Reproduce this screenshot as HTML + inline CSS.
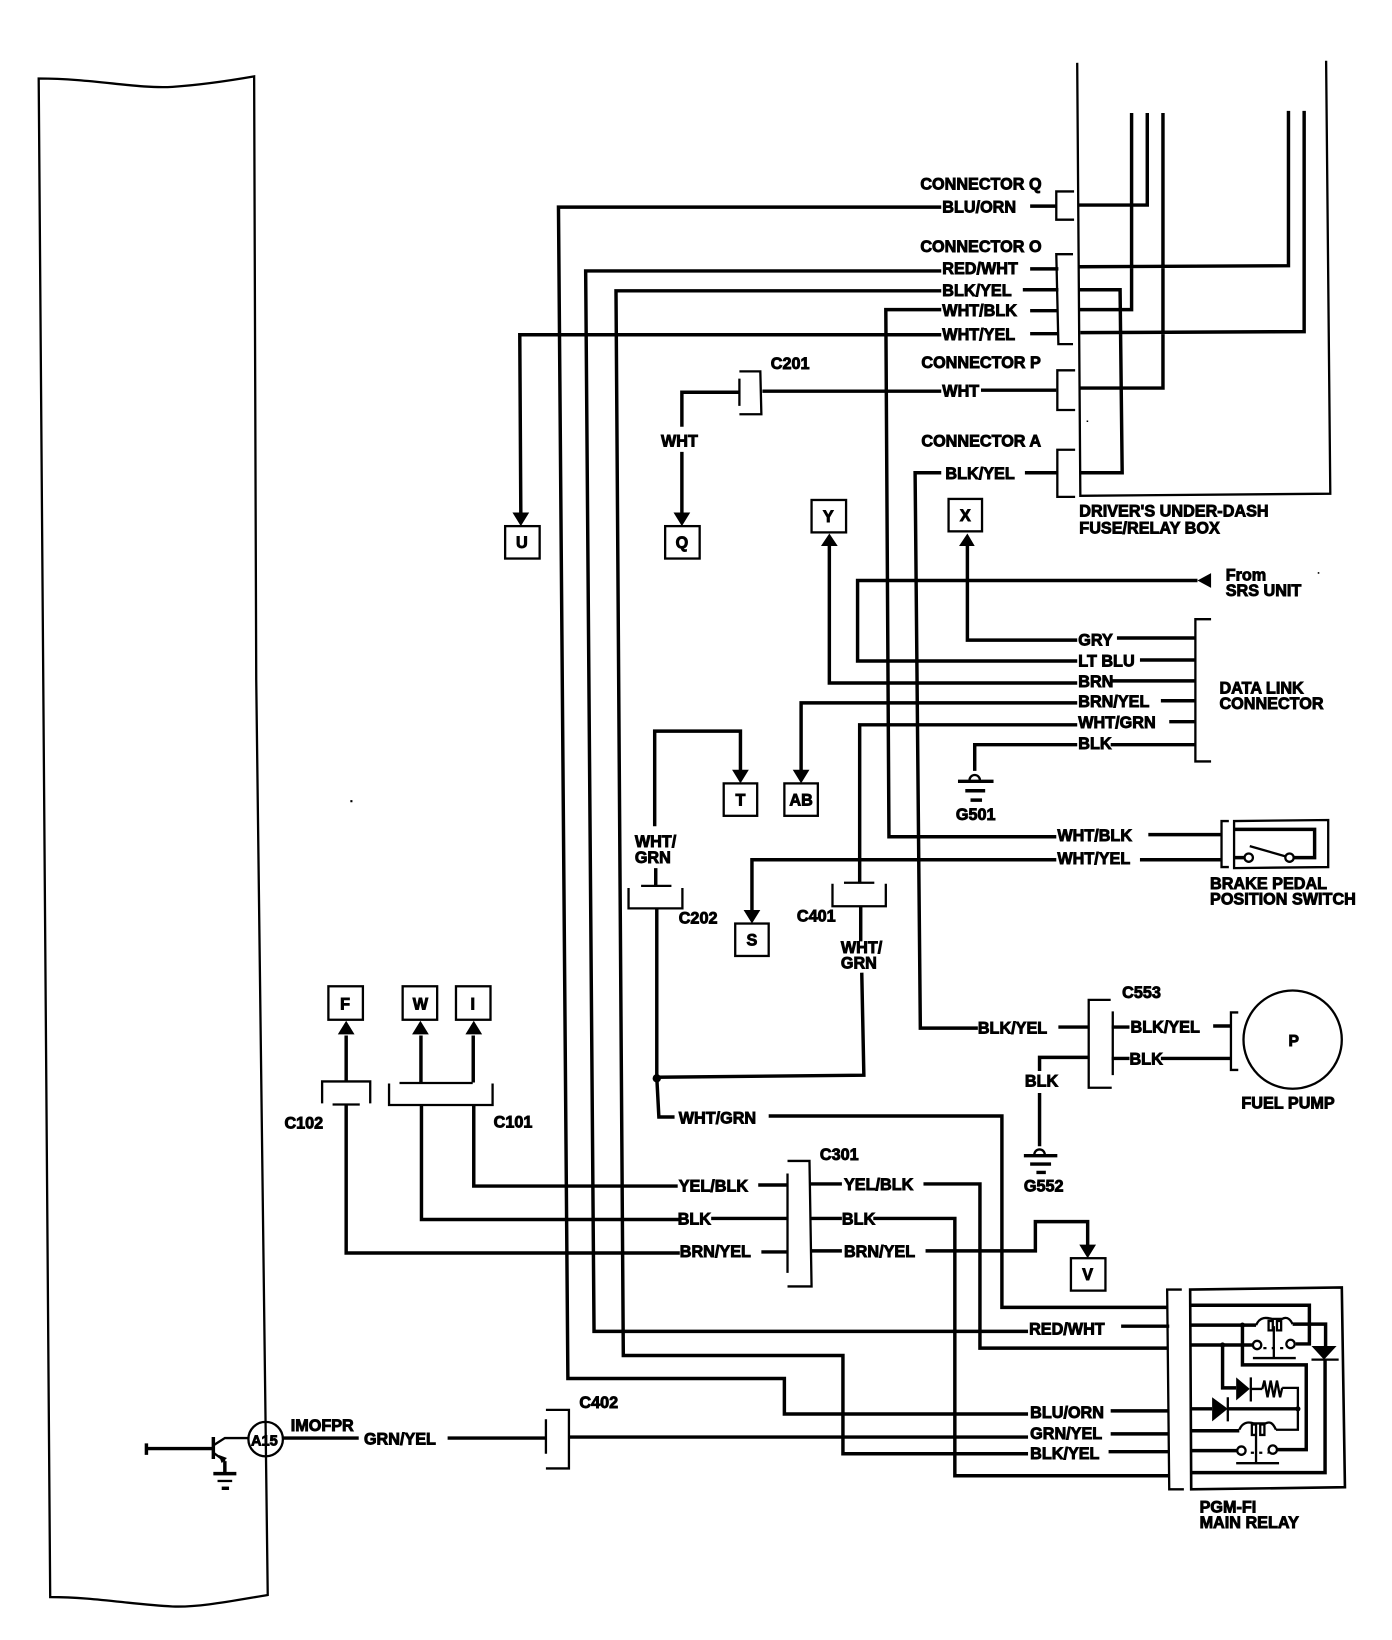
<!DOCTYPE html>
<html><head><meta charset="utf-8"><style>
html,body{margin:0;padding:0;background:#fff}
svg{display:block}
text{font-family:"Liberation Sans",sans-serif;font-weight:bold;font-size:15.5px;fill:#000;stroke:#000;stroke-width:.85px}
.w{fill:none;stroke:#000;stroke-width:3.3;stroke-linejoin:miter}
.t{fill:none;stroke:#000;stroke-width:2.2}
.b{fill:#000;stroke:none}
.c{text-anchor:middle}
</style></head><body>
<svg width="1392" height="1640" viewBox="0 0 1331 1568" xmlns="http://www.w3.org/2000/svg">
<!-- ECM/PCM body -->
<path class="t" d="M37 75C90 75 130 85 165 83C195 81 220 77 243 73L245 650L256 1525C220 1531 190 1537 165 1536C125 1534 90 1527 48 1527L37 75Z"/>
<!-- A15 transistor -->
<circle class="t" cx="254" cy="1376" r="16.5"/>
<path class="w" d="M140 1385H203M140 1380V1391M204 1374V1395"/>
<path class="t" d="M204 1382L215 1375H237M204 1389L215 1397"/>
<path class="w" d="M215 1397V1409M204 1409H226"/>
<path class="t" d="M208 1416H222"/><path class="w" d="M212 1423H219"/>
<path class="b" d="M209 1391L217 1394L212 1399Z"/>
<text x="240" y="1382" style="font-size:14px">A15</text>
<path class="w" d="M271 1375H343M428 1375H522M544 1374H983M1062 1371H1118"/>
<path class="t" d="M522 1348H544V1404H522M522 1357V1390"/>
<text x="278" y="1368">IMOFPR</text><text x="348" y="1381">GRN/YEL</text><text x="554" y="1346">C402</text>
<!-- long wires -->
<path class="w" d="M900 198H534L543 1318H750V1352H983M1062 1349H1118"/>
<path class="w" d="M900 259H560L568 1273H983M1072 1268H1118"/>
<path class="w" d="M900 278H589L596 1296H806V1390H983M1060 1388H1118"/>
<path class="w" d="M900 296H847L850 800H1010M1098 798H1168"/>
<path class="w" d="M900 320H497L498 491"/>
<path class="w" d="M707 375H652V408M652 432V491M729 374H900M938 373H1010"/>
<path class="w" d="M900 452H875L880 983H935M1012 982H1041"/>
<!-- top connector stubs -->
<path class="w" d="M985 197H1010M985 257H1012M978 277H1012M985 297H1012M985 319H1012M980 452H1012"/>
<!-- brackets -->
<path class="t" d="M1027 183H1010V210H1027M1026 243H1010L1012 329H1026M1028 354H1011V392H1028M1028 430H1011V475H1028"/>
<path class="t" d="M707 355H727L728 396H707M707 362V388"/>
<!-- fuse box -->
<path class="t" d="M1030 60L1033 474L1272 472L1268 58"/>
<path class="w" d="M1082 108V296H1032M1097 108V196H1031M1112 108V371H1033M1232 106V254L1031 255M1247 106V317L1033 318M1031 277H1071L1073 452H1033"/>
<text x="880" y="181">CONNECTOR Q</text><text x="901" y="203">BLU/ORN</text>
<text x="880" y="241">CONNECTOR O</text><text x="901" y="262">RED/WHT</text>
<text x="901" y="283">BLK/YEL</text><text x="901" y="302">WHT/BLK</text><text x="901" y="325">WHT/YEL</text>
<text x="881" y="352">CONNECTOR P</text><text x="901" y="379">WHT</text>
<text x="881" y="427">CONNECTOR A</text><text x="904" y="458">BLK/YEL</text>
<text x="737" y="353">C201</text><text x="632" y="427">WHT</text>
<text x="1032" y="494">DRIVER'S UNDER-DASH</text><text x="1032" y="510">FUSE/RELAY BOX</text>
<!-- location boxes -->
<g class="t">
<rect class="t" x="483" y="503" width="33" height="31"/><rect class="t" x="636" y="503" width="33" height="31"/>
<rect class="t" x="776" y="478" width="33" height="31"/><rect class="t" x="907" y="477" width="32" height="31"/>
<rect class="t" x="692" y="749" width="32" height="31"/><rect class="t" x="750" y="749" width="32" height="31"/>
<rect class="t" x="703" y="883" width="32" height="31"/><rect class="t" x="1024" y="1203" width="33" height="31"/>
<rect class="t" x="314" y="943" width="33" height="32"/><rect class="t" x="385" y="943" width="33" height="32"/><rect class="t" x="436" y="943" width="33" height="32"/>
</g>
<text class="c" x="499" y="524">U</text><text class="c" x="652" y="524">Q</text><text class="c" x="792" y="499">Y</text><text class="c" x="923" y="498">X</text>
<text class="c" x="708" y="770">T</text><text class="c" x="766" y="770">AB</text><text class="c" x="719" y="904">S</text><text class="c" x="1040" y="1224">V</text>
<text class="c" x="330" y="965">F</text><text class="c" x="402" y="965">W</text><text class="c" x="452" y="965">I</text>
<!-- arrowheads -->
<path class="b" d="M490 490H506L498 503ZM644 490H660L652 503ZM700 736H716L708 749ZM758 736H774L766 749ZM711 870H727L719 883ZM1032 1190H1048L1040 1203ZM785 522H801L793 510ZM917 522H932L925 510ZM323 989H339L331 976ZM394 989H410L402 976ZM445 989H461L453 976ZM1145 555L1158 548V562Z"/>
<!-- data link connector -->
<path class="w" d="M1145 555H820V632H1030M1090 631H1143"/>
<path class="w" d="M925 520V612H1030M1068 610H1143"/>
<path class="w" d="M793 520V653H1030M1063 651H1143"/>
<path class="w" d="M766 737V672H1030M1110 670H1143"/>
<path class="w" d="M1030 693H822V844M1118 690H1143"/>
<path class="w" d="M1030 712H932V737M1062 712H1143"/>
<path class="t" d="M1158 592H1143V728H1158"/>
<text x="1172" y="555">From</text><text x="1172" y="570">SRS UNIT</text>
<text x="1031" y="617">GRY</text><text x="1031" y="637">LT BLU</text><text x="1031" y="657">BRN</text><text x="1031" y="676">BRN/YEL</text><text x="1031" y="696">WHT/GRN</text><text x="1031" y="716">BLK</text>
<text x="1166" y="663">DATA LINK</text><text x="1166" y="678">CONNECTOR</text>
<path class="t" d="M927 746A5 5 0 0 1 937 746"/><path class="w" d="M916 747H950M923 756H942M928 765H939"/>
<text x="914" y="784">G501</text>
<!-- brake switch -->
<path class="w" d="M719 871V822H1010M1090 822H1168"/>
<path class="t" d="M1175 785H1168V829H1175M1180 785L1270 784V829L1180 830Z"/>
<path class="w" d="M1180 793H1257V820H1237M1180 820H1190"/>
<circle class="t" cx="1194" cy="820" r="4"/><circle class="t" cx="1233" cy="820" r="4"/><path class="t" d="M1195 809L1230 819"/>
<text x="1011" y="804">WHT/BLK</text><text x="1011" y="826">WHT/YEL</text>
<text x="1157" y="850">BRAKE PEDAL</text><text x="1157" y="865">POSITION SWITCH</text>
<!-- T, C202, C401 -->
<path class="w" d="M626 790V699H708V737M627 830V847M628 869V1030L826 1028L824 930M823 867V900M628 1030L630 1068H645M735 1067H958V1250H1116"/>
<path class="t" d="M601 849V868.5H652.5V849M613 847H642M796 845V866.5H847V845M807 844H836"/>
<circle class="b" cx="628" cy="1031" r="4"/>
<text x="607" y="810">WHT/</text><text x="607" y="825">GRN</text><text x="649" y="883">C202</text>
<text x="762" y="881">C401</text><text x="804" y="911">WHT/</text><text x="804" y="926">GRN</text>
<text x="649" y="1074">WHT/GRN</text>
<!-- fuel pump -->
<path class="t" d="M1062 956H1041V1040H1063M1064 967V1028M1184 968H1177V1023H1184"/>
<path class="w" d="M1063 982H1080M1063 1012H1080M1160 981H1177M1110 1012H1177M1041 1011H994V1024M994 1045V1096"/>
<circle class="t" cx="1236" cy="994" r="47"/>
<text x="1232" y="1000" style="font-size:15px">P</text>
<text x="1073" y="954">C553</text><text x="935" y="988">BLK/YEL</text><text x="1081" y="987">BLK/YEL</text><text x="1080" y="1018">BLK</text><text x="980" y="1039">BLK</text>
<text x="1187" y="1060">FUEL PUMP</text>
<path class="t" d="M989 1104A5 5 0 0 1 999 1104"/><path class="w" d="M979 1105H1011M985 1113H1005M991 1121H1000"/>
<text x="979" y="1139">G552</text>
<!-- C101/C102 -->
<path class="w" d="M331 990V1034M402.5 990V1035M452.5 990V1035M331 1056V1198H650M403 1057V1166H650M453 1057V1134H648"/>
<path class="t" d="M308 1055V1034H354V1055M318 1056H344M372 1036V1056.5H471V1036M382 1035.5H452"/>
<text x="272" y="1079">C102</text><text x="472" y="1078">C101</text>
<!-- C301 -->
<path class="w" d="M728 1197H753M680 1165H753M725 1133H753M775 1132H805M775 1165H805M775 1196H805M883 1132H937V1289H1116M835 1165H913V1411H1118M885 1196H990V1168H1040V1191"/>
<path class="t" d="M753 1110H774L776 1230H753M753 1122V1217"/>
<text x="784" y="1109">C301</text>
<text x="649" y="1139">YEL/BLK</text><text x="648" y="1171">BLK</text><text x="650" y="1202">BRN/YEL</text>
<text x="807" y="1138">YEL/BLK</text><text x="805" y="1171">BLK</text><text x="807" y="1202">BRN/YEL</text>
<!-- relay -->
<path class="t" d="M1130 1233H1116L1118 1424H1132"/>
<path class="w" d="M1138 1233L1283 1231L1286 1422L1139 1424L1138 1233Z" style="stroke-width:2.5"/>
<path class="w" d="M1139 1248H1252V1285H1239M1139 1267H1201M1236 1266H1267.5V1287M1267 1300V1408H1139M1188 1267V1305H1249V1386H1221M1139 1286H1199M1169 1286V1327H1182M1139 1347H1159M1174 1347H1242M1139 1368H1185M1139 1387H1183"/>
<path class="t" d="M1196 1328H1207M1226 1327H1241V1367H1220"/>
<path class="t" d="M1201 1267C1205 1258 1212 1260 1216 1261H1226C1230 1259 1233 1260 1236 1266M1185 1367C1189 1358 1196 1360 1199 1361H1210C1214 1359 1217 1360 1220 1367"/>
<path class="t" d="M1213 1263H1217V1272H1213ZM1221 1263H1225V1272H1221ZM1197 1362H1201V1372H1197ZM1205 1362H1209V1372H1205ZM1218 1268V1298M1201 1366V1398M1198 1298.5H1239M1182 1399H1223"/>
<path class="t" d="M1208 1289H1229M1196 1389H1213" stroke-dasharray="3 5"/>
<circle class="t" cx="1202" cy="1286" r="4"/><circle class="t" cx="1234" cy="1285" r="4"/><circle class="t" cx="1187" cy="1387" r="4"/><circle class="t" cx="1217" cy="1386" r="4"/>
<path class="b" d="M1254 1287H1278L1266 1300ZM1182 1317V1339L1195 1328ZM1159 1336V1359L1174 1347Z"/>
<path class="t" d="M1254 1300H1280M1196 1317V1340M1174 1336V1359"/>
<path class="t" d="M1207 1328L1209 1320L1212 1336L1215 1320L1218 1336L1221 1320L1224 1336L1226 1327"/>
<circle class="b" cx="1188" cy="1267" r="2.5"/><circle class="b" cx="1169" cy="1286" r="2.5"/><circle class="b" cx="1241" cy="1347" r="2.5"/>
<text x="984" y="1276">RED/WHT</text><text x="985" y="1356">BLU/ORN</text><text x="985" y="1376">GRN/YEL</text><text x="985" y="1395">BLK/YEL</text>
<text x="1147" y="1446">PGM-FI</text><text x="1147" y="1461">MAIN RELAY</text>
<!-- scan specks -->
<path class="b" d="M335 765h2v2h-2zM1260 547h1.5v1.5h-1.5zM1039 402h1.5v1.5h-1.5z"/>
</svg>
</body></html>
